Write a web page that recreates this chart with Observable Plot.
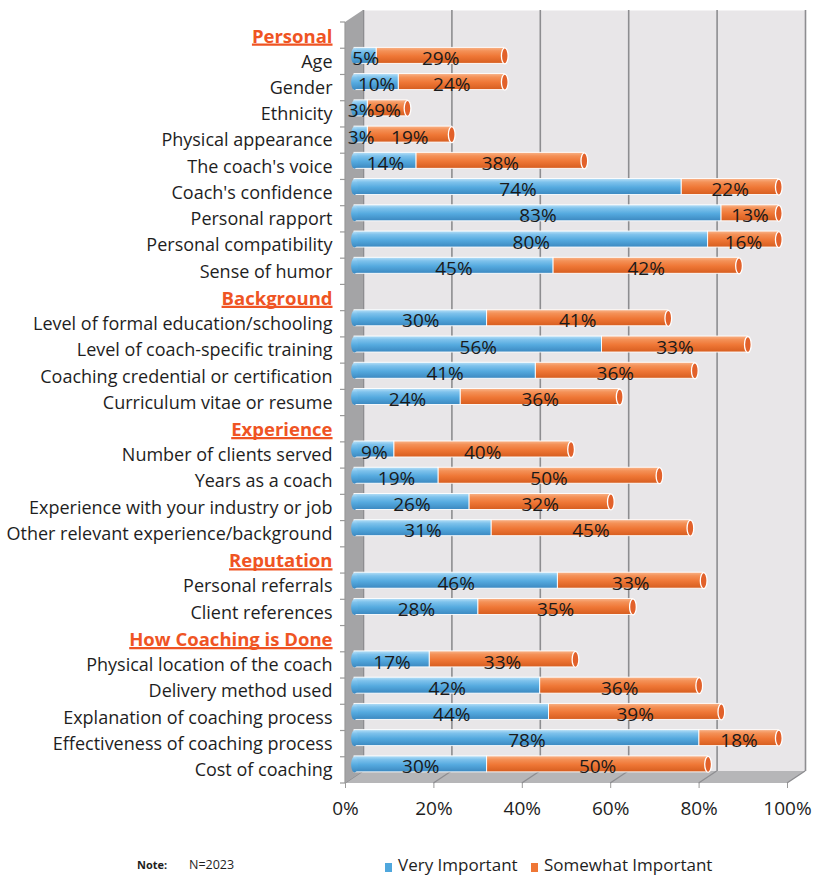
<!DOCTYPE html>
<html>
<head>
<meta charset="utf-8">
<script src="https://cdn.jsdelivr.net/npm/d3@7"></script>
<script src="https://cdn.jsdelivr.net/npm/@observablehq/plot@0.6"></script>
<style>
  body { margin: 0; background: #fff; font-family: "Open Sans", sans-serif; }
  #wrap { position: relative; width: 813px; }
  #chart svg { display: block; }
  #foot { position: relative; height: 45px; color: #1e1e1e; }
  #foot span { position: absolute; white-space: nowrap; line-height: 20px; }
  .sw { display: inline-block; width: 7px; height: 9px; margin-right: 6px; vertical-align: -1px; }
</style>
</head>
<body>
<div id="wrap">
  <div id="chart"></div>
  <div id="foot"></div>
</div>
<script>
// Survey: importance of coach attributes (share of respondents)
const groupNames = ["Personal", "Background", "Experience", "Reputation", "How Coaching is Done"];
const groupSizes = [9, 4, 4, 2, 5];
const categories = [
  "Age", "Gender", "Ethnicity", "Physical appearance", "The coach's voice",
  "Coach's confidence", "Personal rapport", "Personal compatibility", "Sense of humor",
  "Level of formal education/schooling", "Level of coach-specific training",
  "Coaching credential or certification", "Curriculum vitae or resume",
  "Number of clients served", "Years as a coach", "Experience with your industry or job",
  "Other relevant experience/background",
  "Personal referrals", "Client references",
  "Physical location of the coach", "Delivery method used", "Explanation of coaching process",
  "Effectiveness of coaching process", "Cost of coaching"
];
const veryImportant     = [5, 10, 3, 3, 14, 74, 83, 80, 45, 30, 56, 41, 24, 9, 19, 26, 31, 46, 28, 17, 42, 44, 78, 30];
const somewhatImportant = [29, 24, 9, 19, 38, 22, 13, 16, 42, 41, 33, 36, 36, 40, 50, 32, 45, 33, 35, 33, 36, 39, 18, 50];
const seriesNames = ["Very Important", "Somewhat Important"];
const seriesColors = ["#4fa7dd", "#ef7736"];
const xTicks = [0, 20, 40, 60, 80, 100];
const noteLabel = "Note:";
const sampleNote = "N=2023";

// Row order: each group heading takes its own (empty) row above its items
const rows = [];
const domain = [];
let k = 0;
groupNames.forEach((g, gi) => {
  domain.push(g);
  for (let j = 0; j < groupSizes[gi]; j++, k++) {
    domain.push(categories[k]);
    rows.push({category: categories[k], very: veryImportant[k], somewhat: somewhatImportant[k]});
  }
});

const W = 813, H = 830, mTop = 22, mBottom = 47, mLeft = 345, mRight = 26;
const depth = {x: 18, y: -12};      // back wall offset
const barShift = {x: 9, y: -6};     // bars sit mid-depth
const labelFont = 18, valueFont = 19, headFont = 18.5, tickFont = 19;
const headColor = "#ef5423";

// Elliptical face used for the cylinder ends
const ellipse = {
  draw(ctx, size) {
    const r = Math.sqrt(size / Math.PI), rx = r * 0.42, ry = r, c = 0.5523;
    ctx.moveTo(0, -ry);
    ctx.bezierCurveTo(rx * c, -ry, rx, -ry * c, rx, 0);
    ctx.bezierCurveTo(rx, ry * c, rx * c, ry, 0, ry);
    ctx.bezierCurveTo(-rx * c, ry, -rx, ry * c, -rx, 0);
    ctx.bezierCurveTo(-rx, -ry * c, -rx * c, -ry, 0, -ry);
    ctx.closePath();
  }
};

const chart = Plot.plot({
  width: W, height: H,
  marginTop: mTop, marginBottom: mBottom, marginLeft: mLeft, marginRight: mRight,
  style: {fontFamily: "Open Sans, sans-serif", fontSize: labelFont + "px", color: "#1e1e1e", background: "transparent"},
  x: {domain: [0, 100]},
  y: {type: "band", domain, paddingInner: 0.39, paddingOuter: 0.195, align: 0.5, round: false},
  marks: [
    // back wall and its gridlines
    Plot.frame({fill: "#e8e6e8", dx: depth.x, dy: depth.y}),
    Plot.ruleX(xTicks, {stroke: "#8d8d90", strokeWidth: 1.6, dx: depth.x, dy: depth.y}),
    // stacked cylinders
    Plot.barX(rows, {y: "category", x1: "very", x2: d => d.very + d.somewhat,
      fill: "url(#cyl-orange)", stroke: "#fff", strokeWidth: 0.9, dx: barShift.x, dy: barShift.y}),
    Plot.barX(rows, {y: "category", x1: 0, x2: "very",
      fill: "url(#cyl-blue)", stroke: "#fff", strokeWidth: 0.9, dx: barShift.x, dy: barShift.y}),
    Plot.dot(rows, {y: "category", x: 0, r: 8, symbol: ellipse,
      fill: "url(#cyl-blue)", dx: barShift.x, dy: barShift.y}),
    Plot.dot(rows, {y: "category", x: d => d.very + d.somewhat, r: 8, symbol: ellipse,
      fill: "#e2612a", stroke: "#fff", strokeWidth: 1.3, dx: barShift.x, dy: barShift.y}),
    // value labels
    Plot.text(rows, {y: "category", x: d => d.very / 2, text: d => d.very + "%",
      fill: "#1a1a1a", fontSize: valueFont, dx: barShift.x, dy: -3}),
    Plot.text(rows, {y: "category", x: d => d.very + d.somewhat / 2, text: d => d.somewhat + "%",
      fill: "#1a1a1a", fontSize: valueFont, dx: barShift.x, dy: -3}),
    // category labels and group headings
    Plot.axisY({tickSize: 0, tickPadding: 13, fontSize: labelFont, fill: "#1e1e1e", label: null,
      tickFormat: d => groupNames.includes(d) ? "" : d}),
    Plot.text(groupNames, {y: d => d, frameAnchor: "left", textAnchor: "end", dx: -13, dy: 1,
      fill: headColor, fontWeight: "bold", fontSize: headFont}),
    Plot.axisX(xTicks, {tickSize: 5, tickPadding: 13, fontSize: tickFont, stroke: "#9a9a9a", fill: "#1e1e1e",
      label: null, tickFormat: d => d + "%"})
  ]
});

// cylinder shading
const svg = d3.select(chart);
const defs = svg.insert("defs", ":first-child");
function cylinder(id, stops) {
  const g = defs.append("linearGradient").attr("id", id).attr("x1", 0).attr("y1", 0).attr("x2", 0).attr("y2", 1);
  stops.forEach(([o, c]) => g.append("stop").attr("offset", o).attr("stop-color", c));
}
cylinder("cyl-blue", [[0, "#b8e0f7"], [0.22, "#7ec2ec"], [0.55, "#55aadf"], [1, "#3b88c0"]]);
cylinder("cyl-orange", [[0, "#f9b48a"], [0.22, "#f49157"], [0.55, "#ef7736"], [1, "#d65d1f"]]);

// side wall and floor, from the x and y scales
const sx = chart.scale("x"), sy = chart.scale("y");
const x0 = sx.apply(0), x1 = sx.apply(100);
const yTop = mTop, yBot = H - mBottom;
const walls = svg.insert("g", 'g[aria-label="bar"]').attr("aria-label", "walls");
walls.append("path")
  .attr("d", `M${x0},${yBot}L${x1},${yBot}L${x1 + depth.x},${yBot + depth.y}L${x0 + depth.x},${yBot + depth.y}Z`)
  .attr("fill", "#b6b6b8");
xTicks.forEach(v => {
  walls.append("line")
    .attr("x1", sx.apply(v)).attr("y1", yBot)
    .attr("x2", sx.apply(v) + depth.x).attr("y2", yBot + depth.y)
    .attr("stroke", "#8d8d90").attr("stroke-width", 1.3);
});
walls.append("path")
  .attr("d", `M${x0},${yTop}L${x0 + depth.x},${yTop + depth.y}L${x0 + depth.x},${yBot + depth.y}L${x0},${yBot}Z`)
  .attr("fill", "#a4a4a6");
walls.append("line").attr("x1", x0).attr("x2", x0).attr("y1", yTop).attr("y2", yBot)
  .attr("stroke", "#999").attr("stroke-width", 1.2);
for (let i = 0; i <= domain.length; i++) {
  const y = yTop + i * sy.step;
  walls.append("line").attr("x1", x0 - 5).attr("x2", x0).attr("y1", y).attr("y2", y)
    .attr("stroke", "#999").attr("stroke-width", 1.2);
}

document.getElementById("chart").appendChild(chart);

// underline the group headings (measured once the text is laid out)
const headings = svg.selectAll("text").filter(function () {
  return groupNames.includes(this.textContent);
}).nodes();
const ul = svg.append("g").attr("aria-label", "heading-underlines");
headings.forEach(node => {
  const b = node.getBBox();
  const m = node.getCTM();
  const r = chart.getCTM();
  // convert from the text's local space to the svg's own space
  const toSvg = r.inverse().multiply(m);
  const p1 = new DOMPoint(b.x, b.y + b.height - 3).matrixTransform(toSvg);
  const p2 = new DOMPoint(b.x + b.width, b.y + b.height - 3).matrixTransform(toSvg);
  ul.append("line")
    .attr("x1", p1.x).attr("y1", p1.y).attr("x2", p2.x).attr("y2", p2.y)
    .attr("stroke", headColor).attr("stroke-width", 2.2);
});

// note and legend
const foot = document.getElementById("foot");
const note1 = document.createElement("span");
note1.textContent = noteLabel;
note1.style.cssText = "left:137px;top:25px;font-size:11px;font-weight:bold;";
const note2 = document.createElement("span");
note2.textContent = sampleNote;
note2.style.cssText = "left:189px;top:25px;font-size:12.5px;";
foot.append(note1, note2);
const legendLeft = [385, 531];
seriesNames.forEach((name, i) => {
  const s = document.createElement("span");
  s.style.cssText = `left:${legendLeft[i]}px;top:25px;font-size:17px;`;
  const sw = document.createElement("i");
  sw.className = "sw";
  sw.style.background = seriesColors[i];
  s.append(sw, document.createTextNode(name));
  foot.append(s);
});
</script>
</body>
</html>
